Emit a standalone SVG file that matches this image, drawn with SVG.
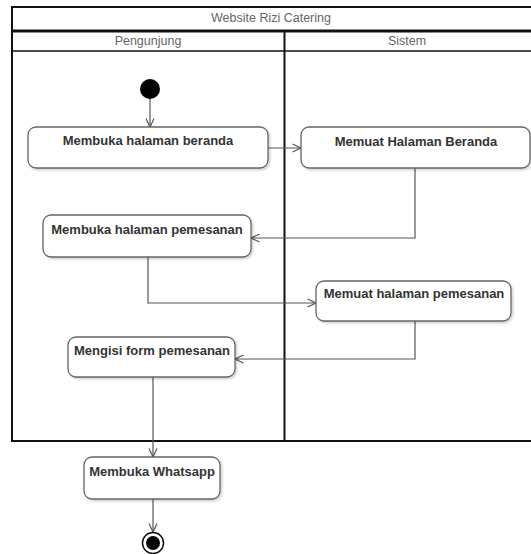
<svg xmlns="http://www.w3.org/2000/svg" width="531" height="554" viewBox="0 0 531 554">
<defs>
<style>
.hdr{font-family:"Liberation Sans",Arial,sans-serif;font-size:12.5px;fill:#666;text-anchor:middle}
.lbl{font-family:"Liberation Sans",Arial,sans-serif;font-size:13px;font-weight:bold;fill:#333;text-anchor:middle}
.node{fill:#fff;stroke:#666;stroke-width:1.3}
.edge{fill:none;stroke:#555;stroke-width:1.2;marker-end:url(#arr)}
</style>
<marker id="arr" viewBox="0 0 10 10" refX="9.5" refY="5" markerWidth="10" markerHeight="10" markerUnits="userSpaceOnUse" orient="auto">
<path d="M1,1 L9.5,5 L1,9" fill="none" stroke="#555" stroke-width="1.2"/>
</marker>
<filter id="sh" x="-10%" y="-10%" width="130%" height="140%">
<feDropShadow dx="1.5" dy="1.5" stdDeviation="1" flood-color="#000" flood-opacity="0.2"/>
</filter>
</defs>
<rect width="531" height="554" fill="#fff"/>
<g id="pool">
<rect x="12" y="7" width="522" height="434" fill="none" stroke="#111" stroke-width="2"/>
<line x1="12" y1="31" x2="531" y2="31" stroke="#111" stroke-width="3"/>
<line x1="12" y1="51" x2="531" y2="51" stroke="#111" stroke-width="1.5"/>
<line x1="284.5" y1="31" x2="284.5" y2="441" stroke="#111" stroke-width="2"/>
<text class="hdr" x="271" y="21.5">Website Rizi Catering</text>
<text class="hdr" x="148" y="45">Pengunjung</text>
<text class="hdr" x="407" y="45">Sistem</text>
</g>
<g id="connectors">
<path class="edge" d="M150,99 L150,127"/>
<path class="edge" d="M268,148 L301,148"/>
<path class="edge" d="M415,168 L415,238 L251,238"/>
<path class="edge" d="M148,257 L148,303 L316,303"/>
<path class="edge" d="M415,321 L415,359 L235,359"/>
<path class="edge" d="M153,377 L153,457"/>
<path class="edge" d="M153,499 L153,532"/>
</g>
<g id="start"><circle cx="150" cy="89" r="10" fill="#000"/></g>
<g id="n1"><rect class="node" filter="url(#sh)" x="28" y="127" width="240" height="41" rx="8"/><text class="lbl" x="148" y="144.5">Membuka halaman beranda</text></g>
<g id="n2"><rect class="node" filter="url(#sh)" x="301" y="127" width="229" height="41" rx="8"/><text class="lbl" x="416" y="145.5">Memuat Halaman Beranda</text></g>
<g id="n3"><rect class="node" filter="url(#sh)" x="43" y="215" width="208" height="42" rx="8"/><text class="lbl" x="147" y="233.5">Membuka halaman pemesanan</text></g>
<g id="n4"><rect class="node" filter="url(#sh)" x="316" y="281" width="195" height="40" rx="8"/><text class="lbl" x="414" y="297.5">Memuat halaman pemesanan</text></g>
<g id="n5"><rect class="node" filter="url(#sh)" x="68" y="337" width="167" height="40" rx="8"/><text class="lbl" x="152" y="354.5">Mengisi form pemesanan</text></g>
<g id="n6"><rect class="node" filter="url(#sh)" x="84" y="457" width="136" height="42" rx="8"/><text class="lbl" x="152" y="475.5">Membuka Whatsapp</text></g>
<g id="end"><circle cx="153" cy="543" r="10.5" fill="#fff" stroke="#111" stroke-width="1.5"/><circle cx="153" cy="543" r="7" fill="#000"/></g>
</svg>
